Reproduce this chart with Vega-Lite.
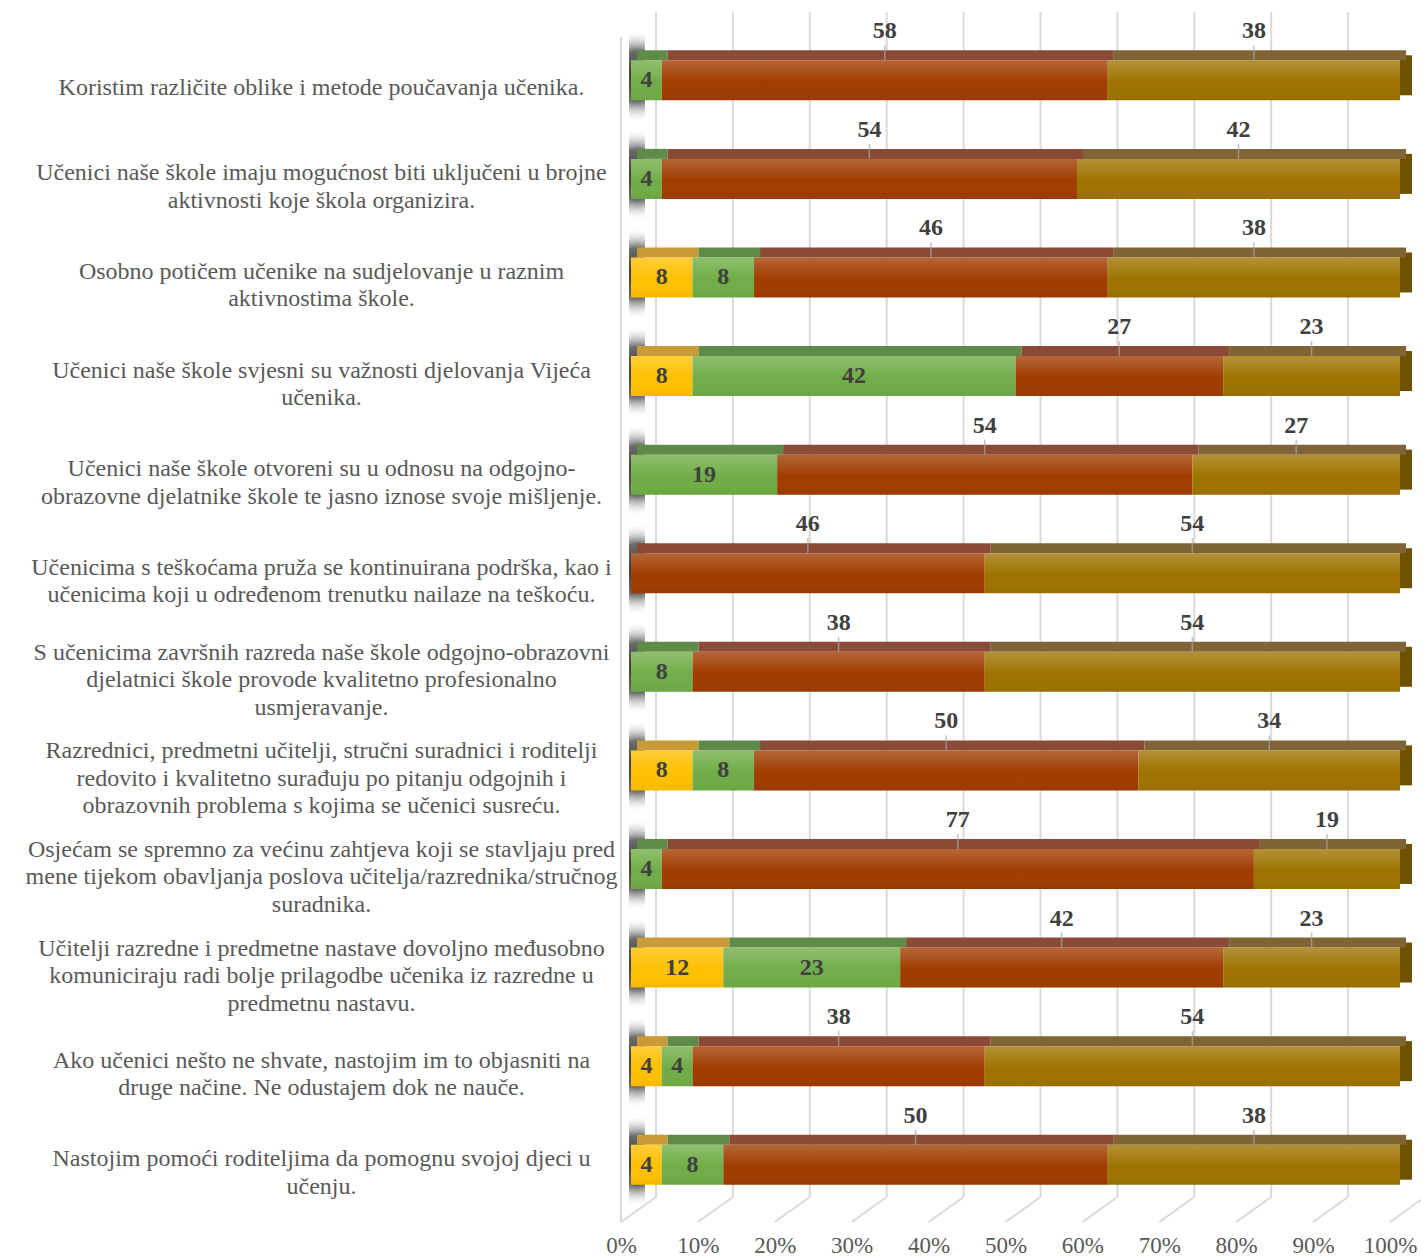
{
  "$schema": "https://vega.github.io/schema/vega-lite/v6.json",
  "width": 800,
  "height": 1210,
  "autosize": {"type": "none"},
  "padding": {"left": 621, "top": 12, "right": 0, "bottom": 38},
  "background": "white",
  "config": {"view": {"stroke": null}, "font": "Liberation Serif"},
  "datasets": {
    "d": [
      {"i": 1, "c": "Koristim različite  oblike i metode poučavanja učenika.", "s": 2, "v": 4},
      {"i": 1, "c": "Koristim različite  oblike i metode poučavanja učenika.", "s": 3, "v": 58},
      {"i": 1, "c": "Koristim različite  oblike i metode poučavanja učenika.", "s": 4, "v": 38},
      {"i": 2, "c": "Učenici naše škole imaju mogućnost biti uključeni u brojne|aktivnosti koje škola organizira.", "s": 2, "v": 4},
      {"i": 2, "c": "Učenici naše škole imaju mogućnost biti uključeni u brojne|aktivnosti koje škola organizira.", "s": 3, "v": 54},
      {"i": 2, "c": "Učenici naše škole imaju mogućnost biti uključeni u brojne|aktivnosti koje škola organizira.", "s": 4, "v": 42},
      {"i": 3, "c": "Osobno potičem učenike na sudjelovanje u raznim|aktivnostima škole.", "s": 1, "v": 8},
      {"i": 3, "c": "Osobno potičem učenike na sudjelovanje u raznim|aktivnostima škole.", "s": 2, "v": 8},
      {"i": 3, "c": "Osobno potičem učenike na sudjelovanje u raznim|aktivnostima škole.", "s": 3, "v": 46},
      {"i": 3, "c": "Osobno potičem učenike na sudjelovanje u raznim|aktivnostima škole.", "s": 4, "v": 38},
      {"i": 4, "c": "Učenici naše škole svjesni su važnosti djelovanja Vijeća|učenika.", "s": 1, "v": 8},
      {"i": 4, "c": "Učenici naše škole svjesni su važnosti djelovanja Vijeća|učenika.", "s": 2, "v": 42},
      {"i": 4, "c": "Učenici naše škole svjesni su važnosti djelovanja Vijeća|učenika.", "s": 3, "v": 27},
      {"i": 4, "c": "Učenici naše škole svjesni su važnosti djelovanja Vijeća|učenika.", "s": 4, "v": 23},
      {"i": 5, "c": "Učenici naše škole otvoreni su u odnosu na odgojno-|obrazovne djelatnike škole te jasno iznose svoje mišljenje.", "s": 2, "v": 19},
      {"i": 5, "c": "Učenici naše škole otvoreni su u odnosu na odgojno-|obrazovne djelatnike škole te jasno iznose svoje mišljenje.", "s": 3, "v": 54},
      {"i": 5, "c": "Učenici naše škole otvoreni su u odnosu na odgojno-|obrazovne djelatnike škole te jasno iznose svoje mišljenje.", "s": 4, "v": 27},
      {"i": 6, "c": "Učenicima s teškoćama  pruža se kontinuirana podrška, kao i|učenicima koji u određenom trenutku nailaze na teškoću.", "s": 3, "v": 46},
      {"i": 6, "c": "Učenicima s teškoćama  pruža se kontinuirana podrška, kao i|učenicima koji u određenom trenutku nailaze na teškoću.", "s": 4, "v": 54},
      {"i": 7, "c": "S učenicima završnih razreda naše škole odgojno-obrazovni|djelatnici škole provode kvalitetno profesionalno|usmjeravanje.", "s": 2, "v": 8},
      {"i": 7, "c": "S učenicima završnih razreda naše škole odgojno-obrazovni|djelatnici škole provode kvalitetno profesionalno|usmjeravanje.", "s": 3, "v": 38},
      {"i": 7, "c": "S učenicima završnih razreda naše škole odgojno-obrazovni|djelatnici škole provode kvalitetno profesionalno|usmjeravanje.", "s": 4, "v": 54},
      {"i": 8, "c": "Razrednici, predmetni učitelji, stručni suradnici i roditelji|redovito i kvalitetno surađuju po pitanju odgojnih i|obrazovnih problema s kojima se učenici susreću.", "s": 1, "v": 8},
      {"i": 8, "c": "Razrednici, predmetni učitelji, stručni suradnici i roditelji|redovito i kvalitetno surađuju po pitanju odgojnih i|obrazovnih problema s kojima se učenici susreću.", "s": 2, "v": 8},
      {"i": 8, "c": "Razrednici, predmetni učitelji, stručni suradnici i roditelji|redovito i kvalitetno surađuju po pitanju odgojnih i|obrazovnih problema s kojima se učenici susreću.", "s": 3, "v": 50},
      {"i": 8, "c": "Razrednici, predmetni učitelji, stručni suradnici i roditelji|redovito i kvalitetno surađuju po pitanju odgojnih i|obrazovnih problema s kojima se učenici susreću.", "s": 4, "v": 34},
      {"i": 9, "c": "Osjećam se spremno za većinu zahtjeva koji se stavljaju pred|mene tijekom obavljanja poslova učitelja/razrednika/stručnog|suradnika.", "s": 2, "v": 4},
      {"i": 9, "c": "Osjećam se spremno za većinu zahtjeva koji se stavljaju pred|mene tijekom obavljanja poslova učitelja/razrednika/stručnog|suradnika.", "s": 3, "v": 77},
      {"i": 9, "c": "Osjećam se spremno za većinu zahtjeva koji se stavljaju pred|mene tijekom obavljanja poslova učitelja/razrednika/stručnog|suradnika.", "s": 4, "v": 19},
      {"i": 10, "c": "Učitelji razredne i predmetne nastave dovoljno međusobno|komuniciraju radi bolje prilagodbe učenika iz razredne u|predmetnu nastavu.", "s": 1, "v": 12},
      {"i": 10, "c": "Učitelji razredne i predmetne nastave dovoljno međusobno|komuniciraju radi bolje prilagodbe učenika iz razredne u|predmetnu nastavu.", "s": 2, "v": 23},
      {"i": 10, "c": "Učitelji razredne i predmetne nastave dovoljno međusobno|komuniciraju radi bolje prilagodbe učenika iz razredne u|predmetnu nastavu.", "s": 3, "v": 42},
      {"i": 10, "c": "Učitelji razredne i predmetne nastave dovoljno međusobno|komuniciraju radi bolje prilagodbe učenika iz razredne u|predmetnu nastavu.", "s": 4, "v": 23},
      {"i": 11, "c": "Ako učenici nešto ne shvate, nastojim im to objasniti na|druge načine. Ne odustajem dok ne nauče.", "s": 1, "v": 4},
      {"i": 11, "c": "Ako učenici nešto ne shvate, nastojim im to objasniti na|druge načine. Ne odustajem dok ne nauče.", "s": 2, "v": 4},
      {"i": 11, "c": "Ako učenici nešto ne shvate, nastojim im to objasniti na|druge načine. Ne odustajem dok ne nauče.", "s": 3, "v": 38},
      {"i": 11, "c": "Ako učenici nešto ne shvate, nastojim im to objasniti na|druge načine. Ne odustajem dok ne nauče.", "s": 4, "v": 54},
      {"i": 12, "c": "Nastojim pomoći roditeljima da pomognu svojoj djeci u|učenju.", "s": 1, "v": 4},
      {"i": 12, "c": "Nastojim pomoći roditeljima da pomognu svojoj djeci u|učenju.", "s": 2, "v": 8},
      {"i": 12, "c": "Nastojim pomoći roditeljima da pomognu svojoj djeci u|učenju.", "s": 3, "v": 50},
      {"i": 12, "c": "Nastojim pomoći roditeljima da pomognu svojoj djeci u|učenju.", "s": 4, "v": 38}
    ],
    "g": [{"p": 0}, {"p": 10}, {"p": 20}, {"p": 30}, {"p": 40}, {"p": 50}, {"p": 60}, {"p": 70}, {"p": 80}, {"p": 90}, {"p": 100}]
  },
  "layer": [
    {
      "data": {"name": "g"},
      "mark": {"type": "rule", "color": "#D9D9D9", "strokeWidth": 2, "xOffset": 35, "y2Offset": -25},
      "encoding": {
        "x": {
          "field": "p", "type": "quantitative", "title": null,
          "scale": {"domain": [0, 100], "range": [0, 769], "nice": false, "zero": false},
          "axis": {
            "values": [0, 10, 20, 30, 40, 50, 60, 70, 80, 90, 100],
            "labelExpr": "datum.value + '%'",
            "grid": false, "ticks": false, "tickSize": 0, "domain": false,
            "labelFlush": false, "labelOverlap": false,
            "labelPadding": 12, "labelFontSize": 23, "labelColor": "#595959",
            "labelFont": "Liberation Serif", "orient": "bottom"
          }
        },
        "y": {"value": 0},
        "y2": {"value": "height"}
      }
    },
    {
      "data": {"name": "g"},
      "mark": {"type": "rule", "color": "#D9D9D9", "strokeWidth": 2, "x2Offset": 35, "y2Offset": -25},
      "encoding": {
        "x": {"field": "p", "type": "quantitative", "title": null},
        "x2": {"field": "p"},
        "y": {"value": "height"},
        "y2": {"value": "height"}
      }
    },
    {
      "data": {"name": "g"},
      "transform": [{"filter": "datum.p == 0"}],
      "mark": {"type": "rule", "color": "#D9D9D9", "strokeWidth": 2, "yOffset": 25},
      "encoding": {
        "x": {"field": "p", "type": "quantitative", "title": null},
        "y": {"value": 0},
        "y2": {"value": "height"}
      }
    },
    {
      "data": {"name": "d"},
      "transform": [{"aggregate": [{"op": "count", "as": "n"}], "groupby": ["c", "i"]}],
      "mark": {
        "type": "bar", "height": 92, "yOffset": -4, "xOffset": 8, "x2Offset": 24,
        "fill": {
          "gradient": "radial", "x1": 0.5, "y1": 0.5, "r1": 0, "x2": 0.5, "y2": 0.5, "r2": 0.5,
          "stops": [
            {"offset": 0, "color": "rgba(40,40,40,0.95)"},
            {"offset": 0.55, "color": "rgba(60,60,60,0.75)"},
            {"offset": 1, "color": "rgba(255,255,255,0)"}
          ]
        }
      },
      "encoding": {
        "x": {"datum": 0, "type": "quantitative", "title": null},
        "x2": {"datum": 0},
        "y": {"field": "c", "type": "nominal", "sort": {"field": "i", "op": "min"}, "title": null}
      }
    },
    {
      "data": {"name": "d"},
      "transform": [{"aggregate": [{"op": "count", "as": "n"}], "groupby": ["c", "i"]}],
      "mark": {"type": "bar", "height": 40, "yOffset": -5, "xOffset": 10, "x2Offset": 22, "color": "#6E5200"},
      "encoding": {
        "x": {"datum": 100, "type": "quantitative", "title": null},
        "x2": {"datum": 100},
        "y": {"field": "c", "type": "nominal", "sort": {"field": "i", "op": "min"}, "title": null}
      }
    },
    {
      "data": {"name": "d"},
      "transform": [{"stack": "v", "groupby": ["c"], "sort": [{"field": "s", "order": "ascending"}], "as": ["x0", "x1"]}],
      "mark": {"type": "bar", "height": 10, "yOffset": -25, "xOffset": 16, "x2Offset": 16},
      "encoding": {
        "x": {"field": "x0", "type": "quantitative", "title": null},
        "x2": {"field": "x1"},
        "y": {"field": "c", "type": "nominal", "sort": {"field": "i", "op": "min"}, "title": null},
        "fill": {
          "field": "s", "type": "nominal", "legend": null,
          "scale": {"domain": [1, 2, 3, 4], "range": ["#C99B36", "#5F8B48", "#8A4A36", "#7F6535"]}
        }
      }
    },
    {
      "data": {"name": "d"},
      "transform": [{"stack": "v", "groupby": ["c"], "sort": [{"field": "s", "order": "ascending"}], "as": ["x0", "x1"]}],
      "mark": {"type": "bar", "height": 40, "xOffset": 10, "x2Offset": 10},
      "encoding": {
        "x": {"field": "x0", "type": "quantitative", "title": null},
        "x2": {"field": "x1"},
        "y": {
          "field": "c", "type": "nominal", "sort": {"field": "i", "op": "min"}, "title": null,
          "scale": {"range": [19, 1202], "paddingInner": 0, "paddingOuter": 0},
          "axis": {
            "labelExpr": "split(datum.label, '|')",
            "labelAlign": "center", "labelBaseline": "middle",
            "labelPadding": 300,
            "labelOffset": {
              "condition": [
                {"test": "indexof(datum.label, '|') < 0", "value": 8},
                {"test": "length(split(datum.label, '|')) == 2", "value": -5.5}
              ],
              "value": -19
            },
            "labelFontSize": 24, "labelColor": "#595959", "labelFont": "Liberation Serif",
            "labelLineHeight": 27.5, "labelLimit": 0,
            "ticks": false, "tickSize": 0, "domain": false, "grid": false
          }
        },
        "color": {
          "field": "s", "type": "nominal", "legend": null,
          "scale": {"domain": [1, 2, 3, 4], "range": ["#FFC000", "#70AD47", "#A03C00", "#9E7300"]}
        }
      }
    },
    {
      "data": {"name": "d"},
      "transform": [{"aggregate": [{"op": "count", "as": "n"}], "groupby": ["c", "i"]}],
      "mark": {
        "type": "bar", "height": 40, "xOffset": 10, "x2Offset": 10,
        "fill": {
          "gradient": "linear", "x1": 0, "y1": 0, "x2": 0, "y2": 1,
          "stops": [
            {"offset": 0, "color": "rgba(255,255,255,0.22)"},
            {"offset": 0.55, "color": "rgba(255,255,255,0)"},
            {"offset": 1, "color": "rgba(0,0,0,0.04)"}
          ]
        }
      },
      "encoding": {
        "x": {"datum": 0, "type": "quantitative", "title": null},
        "x2": {"datum": 100},
        "y": {"field": "c", "type": "nominal", "sort": {"field": "i", "op": "min"}, "title": null}
      }
    },
    {
      "data": {"name": "d"},
      "transform": [
        {"stack": "v", "groupby": ["c"], "sort": [{"field": "s", "order": "ascending"}], "as": ["x0", "x1"]},
        {"fold": ["x0", "x1"], "as": ["k", "p"]},
        {"aggregate": [{"op": "mean", "field": "p", "as": "mid"}], "groupby": ["c", "i", "s", "v"]},
        {"filter": "datum.s <= 2"}
      ],
      "mark": {"type": "text", "dx": 10, "fontWeight": "bold", "fontSize": 24, "color": "#404040", "font": "Liberation Serif", "baseline": "middle"},
      "encoding": {
        "x": {"field": "mid", "type": "quantitative", "title": null},
        "y": {"field": "c", "type": "nominal", "sort": {"field": "i", "op": "min"}, "title": null},
        "text": {"field": "v", "type": "quantitative"}
      }
    },
    {
      "data": {"name": "d"},
      "transform": [
        {"stack": "v", "groupby": ["c"], "sort": [{"field": "s", "order": "ascending"}], "as": ["x0", "x1"]},
        {"fold": ["x0", "x1"], "as": ["k", "p"]},
        {"aggregate": [{"op": "mean", "field": "p", "as": "mid"}], "groupby": ["c", "i", "s", "v"]},
        {"filter": "datum.s >= 3"}
      ],
      "mark": {"type": "text", "dx": 10, "dy": -49, "fontWeight": "bold", "fontSize": 24, "color": "#404040", "font": "Liberation Serif", "baseline": "middle"},
      "encoding": {
        "x": {"field": "mid", "type": "quantitative", "title": null},
        "y": {"field": "c", "type": "nominal", "sort": {"field": "i", "op": "min"}, "title": null},
        "text": {"field": "v", "type": "quantitative"}
      }
    },
    {
      "data": {"name": "d"},
      "transform": [
        {"stack": "v", "groupby": ["c"], "sort": [{"field": "s", "order": "ascending"}], "as": ["x0", "x1"]},
        {"fold": ["x0", "x1"], "as": ["k", "p"]},
        {"aggregate": [{"op": "mean", "field": "p", "as": "mid"}], "groupby": ["c", "i", "s", "v"]},
        {"filter": "datum.s >= 3"}
      ],
      "mark": {"type": "tick", "orient": "vertical", "size": 15, "thickness": 1.5, "color": "#A6A6A6", "xOffset": 10, "yOffset": -27.5},
      "encoding": {
        "x": {"field": "mid", "type": "quantitative", "title": null},
        "y": {"field": "c", "type": "nominal", "sort": {"field": "i", "op": "min"}, "title": null}
      }
    }
  ]
}
